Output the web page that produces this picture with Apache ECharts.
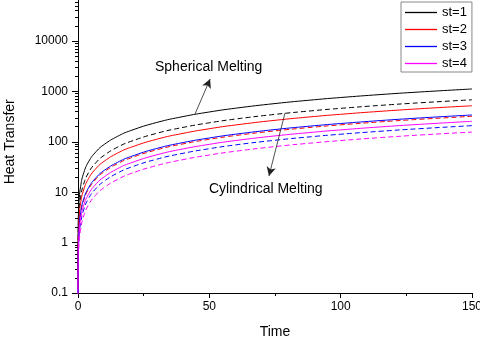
<!DOCTYPE html>
<html>
<head>
<meta charset="utf-8">
<script src="https://cdn.jsdelivr.net/npm/echarts@6/dist/echarts.min.js"></script>
<style>
html, body { margin: 0; padding: 0; background: #fff; }
#heat_graph { width: 480px; height: 337px; }
</style>
</head>
<body>
<div id="heat_graph"></div>
<script>
// time points
var times = [0.002, 0.05, 0.2, 0.5, 1, 2, 4, 7, 10, 15, 20, 30, 40, 50, 60, 75, 90, 100, 115, 130, 150];

// spherical melting (solid)
var sphSt1 = [0.29, 1.71, 4.12, 7.79, 13.05, 22.5, 40, 64.8, 88.8, 127.9, 166.3, 241.9, 316.6, 390.6, 464.3, 574, 683.4, 756, 864.7, 973, 1117];
var sphSt2 = [0.13, 0.8, 1.92, 3.62, 6.07, 10.5, 18.6, 30.1, 41.3, 59.5, 77.3, 112.5, 147.2, 181.6, 215.9, 266.9, 317.8, 351.5, 402, 452.4, 519];
var sphSt3 = [0.09, 0.52, 1.26, 2.38, 3.98, 6.86, 12.2, 19.8, 27.1, 39, 50.7, 73.8, 96.6, 119.1, 141.6, 175.1, 208.4, 230.6, 263.7, 296.8, 340.7];
var sphSt4 = [0.07, 0.39, 0.94, 1.78, 2.98, 5.13, 9.1, 14.8, 20.2, 29.2, 37.9, 55.2, 72.2, 89.1, 105.9, 130.9, 155.8, 172.4, 197.2, 221.8, 255];

// cylindrical melting (dashed)
var cylSt1 = [0.18, 1.04, 2.5, 4.75, 7.96, 13.7, 24.4, 39.5, 54.2, 78, 101.4, 147.6, 193.1, 238.3, 283.2, 350, 416.9, 461, 527.5, 593.5, 681];
var cylSt2 = [0.08, 0.49, 1.18, 2.24, 3.75, 6.46, 11.5, 18.6, 25.5, 36.7, 47.7, 69.4, 90.9, 112.1, 133.3, 164.7, 196.1, 217, 248.2, 279.3, 320];
var cylSt3 = [0.05, 0.32, 0.77, 1.46, 2.44, 4.21, 7.5, 12.1, 16.6, 23.9, 31.1, 45.2, 59.2, 73, 86.8, 107.3, 127.8, 141.4, 161.7, 182, 209];
var cylSt4 = [0.04, 0.24, 0.58, 1.09, 1.83, 3.15, 5.6, 9.07, 12.4, 17.9, 23.3, 33.9, 44.3, 54.7, 65, 80.4, 95.7, 105.8, 121.1, 136.2, 156];

var legendNames = ['st=1', 'st=2', 'st=3', 'st=4'];
var colors = ['#000000', '#ff0000', '#0000ff', '#ff00ff'];

// arrow end points [time, heat transfer]
var sphArrow = [[44.6, 360], [50.3, 1762]];
var cylArrow = [[78.8, 372], [72.7, 21]];

var heatGraph = function () {
    let chart = null;
    const font = 'Liberation Sans, Arial, sans-serif';

    function pairs(ys) {
        let out = [];
        for (let i = 0; i < times.length; i++) {
            out.push([times[i], ys[i]]);
        }
        return out;
    }

    function line(name, ys, color, dashed, arrow) {
        let s = {
            name: name,
            type: 'line',
            data: pairs(ys),
            symbol: 'none',
            smooth: true,
            clip: true,
            lineStyle: { color: color, width: 1, type: dashed ? [5, 3] : 'solid' },
            itemStyle: { color: color },
            z: dashed ? 2 : 3
        };
        if (arrow) {
            s.markLine = {
                silent: true,
                symbol: ['none', 'arrow'],
                symbolSize: [7, 9],
                label: { show: false },
                lineStyle: { color: '#222', width: 0.8, type: 'solid' },
                data: [[{ coord: arrow[0] }, { coord: arrow[1] }]]
            };
        }
        return s;
    }

    function init() {
        chart = echarts.init(document.getElementById('heat_graph'));
        let sph = [sphSt1, sphSt2, sphSt3, sphSt4];
        let cyl = [cylSt1, cylSt2, cylSt3, cylSt4];
        let series = [];
        for (let i = 0; i < 4; i++) {
            series.push(line(legendNames[i] + ' cyl', cyl[i], colors[i], true, i === 0 ? cylArrow : null));
        }
        for (let i = 0; i < 4; i++) {
            series.push(line(legendNames[i], sph[i], colors[i], false, i === 0 ? sphArrow : null));
        }

        let legendData = [];
        for (let i = 0; i < legendNames.length; i++) {
            legendData.push({ name: legendNames[i], icon: 'path://M0,0L32,0L32,1.3L0,1.3Z' });
        }

        let option = {
            animation: false,
            backgroundColor: '#fff',
            textStyle: { fontFamily: font },
            // six decades of 50.4px; the top of the 1e5 decade falls above the page
            grid: { left: 78, right: 8, bottom: 44, height: 302.4, outerBoundsMode: 'none', containLabel: false },
            legend: {
                data: legendData,
                orient: 'vertical',
                left: 401,
                top: 2,
                itemWidth: 32,
                itemHeight: 14,
                itemGap: 4,
                symbolKeepAspect: true,
                padding: [4, 5, 2, 4],
                borderColor: '#888',
                borderWidth: 1,
                textStyle: { fontFamily: font, fontSize: 13, color: '#000' }
            },
            xAxis: {
                type: 'value',
                min: 0,
                max: 150,
                interval: 50,
                name: 'Time',
                nameLocation: 'middle',
                nameGap: 32,
                nameTextStyle: { fontFamily: font, fontSize: 14, color: '#000' },
                axisLine: { lineStyle: { color: '#000', width: 1 } },
                axisTick: { inside: false, length: 5, lineStyle: { color: '#000' } },
                minorTick: { show: true, splitNumber: 2, length: 3, lineStyle: { color: '#000' } },
                axisLabel: { fontFamily: font, fontSize: 12, color: '#000', margin: 8 },
                splitLine: { show: false }
            },
            yAxis: {
                type: 'log',
                logBase: 10,
                min: 0.1,
                max: 100000,
                name: 'Heat Transfer',
                nameLocation: 'middle',
                nameGap: 61,
                nameRotate: 90,
                nameTextStyle: { fontFamily: font, fontSize: 14, color: '#000' },
                axisLine: { show: true, lineStyle: { color: '#000', width: 1 } },
                axisTick: { inside: false, length: 6, lineStyle: { color: '#000' } },
                minorTick: { show: true, splitNumber: 9, length: 3, lineStyle: { color: '#000' } },
                axisLabel: {
                    fontFamily: font, fontSize: 12, color: '#000', margin: 10,
                    formatter: function (v) { return String(v); }
                },
                splitLine: { show: false }
            },
            graphic: [
                {
                    type: 'text', left: 155, top: 60,
                    style: { text: 'Spherical Melting', fontFamily: font, fontSize: 14, fill: '#000' }
                },
                {
                    type: 'text', left: 209, top: 182,
                    style: { text: 'Cylindrical Melting', fontFamily: font, fontSize: 14, fill: '#000' }
                }
            ],
            series: series
        };
        chart.setOption(option);
    }

    init();
    return { init: init };
}();
</script>
</body>
</html>
